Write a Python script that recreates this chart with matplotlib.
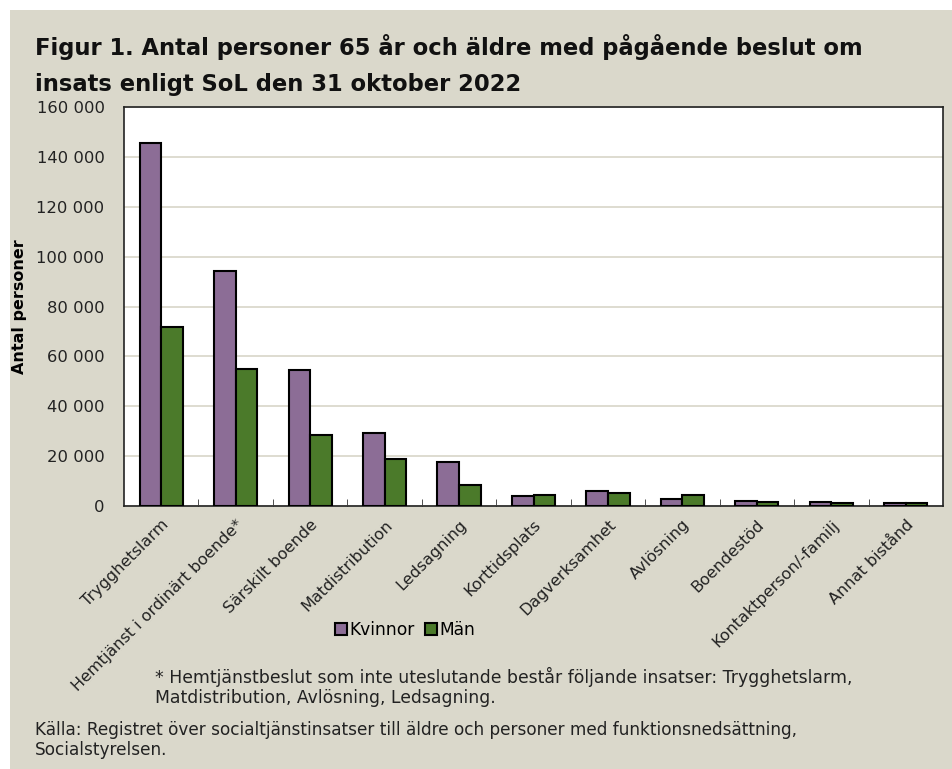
import numpy as np
import matplotlib.pyplot as plt
from matplotlib.ticker import FuncFormatter, FixedLocator
from matplotlib.patches import Rectangle

categories = ["Trygghetslarm", "Hemtjänst i ordinärt boende*", "Särskilt boende",
              "Matdistribution", "Ledsagning", "Korttidsplats", "Dagverksamhet",
              "Avlösning", "Boendestöd", "Kontaktperson/-familj", "Annat bistånd"]
kvinnor = [145700, 94100, 54500, 29400, 17600, 3900, 5900, 2800, 2000, 1500, 1400]
man = [71900, 54800, 28500, 18700, 8300, 4500, 5100, 4500, 1800, 1200, 1100]

bg = "#dad8cb"
purple = "#8c6d96"
green = "#4b7a2a"

fig = plt.figure(figsize=(9.52, 7.69), dpi=100)
fig.patch.set_facecolor("white")
fig.patches.append(Rectangle((10 / 952, 0), 1, 1 - 10 / 769, transform=fig.transFigure,
                             facecolor=bg, edgecolor="none", zorder=-10))

ax = fig.add_axes([124 / 952, 1 - 506 / 769, (943 - 124) / 952, (506 - 107) / 769])
ax.set_facecolor("white")

x = np.arange(len(categories))
w = 0.29
ax.bar(x - w / 2, kvinnor, w, color=purple, edgecolor="black", linewidth=1.5,
       label="Kvinnor", zorder=3)
ax.bar(x + w / 2, man, w, color=green, edgecolor="black", linewidth=1.5,
       label="Män", zorder=3)

ax.set_xlim(-0.5, len(categories) - 0.5)
ax.set_ylim(0, 160000)
ax.set_yticks(np.arange(0, 160001, 20000))
ax.yaxis.set_major_formatter(FuncFormatter(lambda v, p: f"{int(v):,}".replace(",", " ")))
ax.grid(axis="y", color="#d8d6c8", linewidth=1.2, zorder=0)
ax.tick_params(axis="y", length=0, pad=14, labelsize=11.8, labelcolor="#222222")

ax.set_xticks(x)
ax.set_xticklabels(categories, rotation=45, ha="right", rotation_mode="anchor",
                   fontsize=11.5, color="#222222")
ax.tick_params(axis="x", length=0, pad=8)
ax.xaxis.set_minor_locator(FixedLocator(np.arange(0.5, len(categories) - 1, 1)))
ax.tick_params(axis="x", which="minor", direction="in", length=5, color="#333333")

for s in ax.spines.values():
    s.set_color("#222222")
    s.set_linewidth(1.2)

ax.set_ylabel("Antal personer", fontsize=11.5, fontweight="bold")
ax.yaxis.set_label_coords(-0.118, 0.5)

leg = ax.legend(loc="center", bbox_to_anchor=(405 / 952, 1 - 630 / 769),
                bbox_transform=fig.transFigure, ncol=2, frameon=False,
                fontsize=12.3, handlelength=0.7, handleheight=0.7,
                handletextpad=0.15, columnspacing=0.6)

fig.text(35 / 952, 1 - 47 / 769,
         "Figur 1. Antal personer 65 år och äldre med pågående beslut om",
         fontsize=16.3, fontweight="bold", va="center", color="#111111")
fig.text(35 / 952, 1 - 85 / 769, "insats enligt SoL den 31 oktober 2022",
         fontsize=16.3, fontweight="bold", va="center", color="#111111")

fig.text(155 / 952, 1 - 677 / 769,
         "* Hemtjänstbeslut som inte uteslutande består följande insatser: Trygghetslarm,",
         fontsize=12.4, va="center", color="#222222")
fig.text(155 / 952, 1 - 698 / 769, "Matdistribution, Avlösning, Ledsagning.",
         fontsize=12.4, va="center", color="#222222")
fig.text(35 / 952, 1 - 730 / 769,
         "Källa: Registret över socialtjänstinsatser till äldre och personer med funktionsnedsättning,",
         fontsize=12.2, va="center", color="#222222")
fig.text(35 / 952, 1 - 750 / 769, "Socialstyrelsen.",
         fontsize=12.2, va="center", color="#222222")

fig.savefig("out.png", dpi=100, facecolor=fig.get_facecolor())
